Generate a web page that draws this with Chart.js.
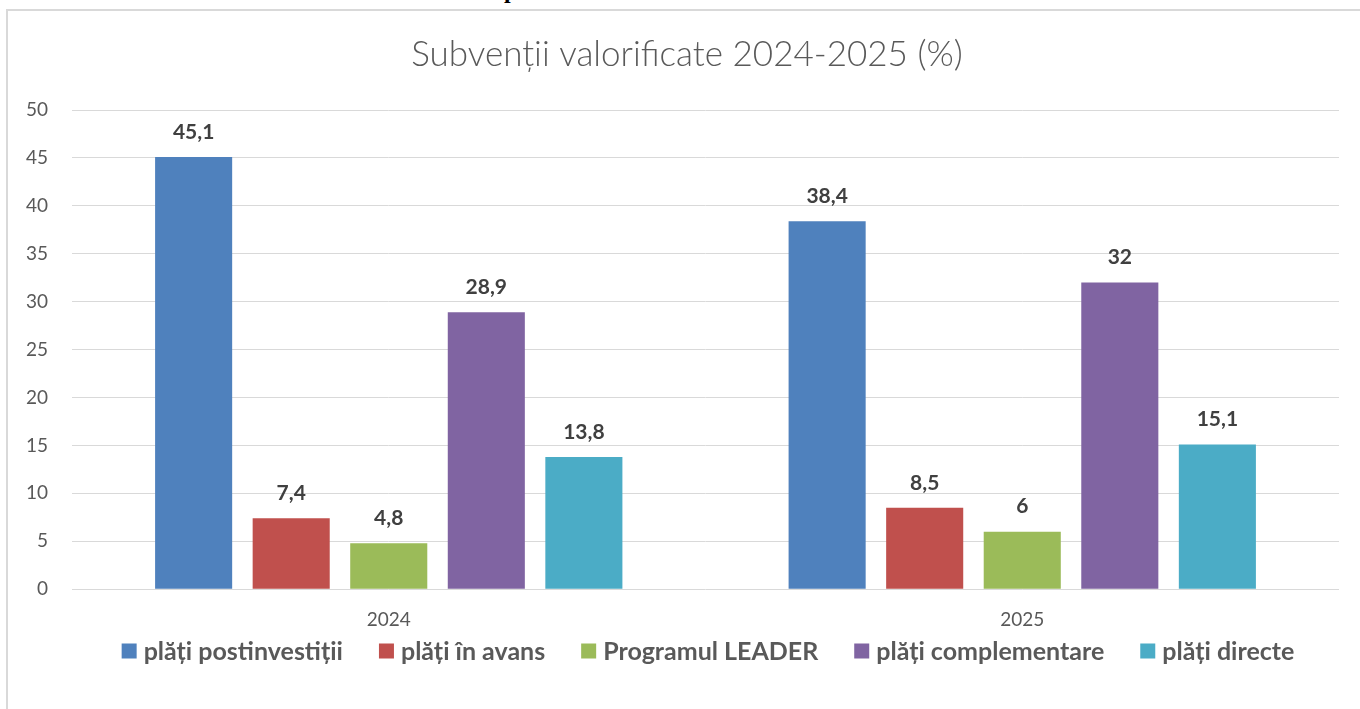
<!DOCTYPE html>
<html>
<head>
<meta charset="utf-8">
<script src="https://cdn.jsdelivr.net/npm/chart.js@4.4.1/dist/chart.umd.min.js"></script>
<style>
  html, body { margin: 0; padding: 0; background: #ffffff; overflow: hidden; }
  body { width: 1360px; height: 709px; position: relative; }
  #frame { position: absolute; left: 6px; top: 9px; width: 1400px; height: 760px;
           border-top: 2px solid #d9d9d9; border-left: 2px solid #d9d9d9; box-sizing: border-box; }
  #cut { position: absolute; left: 504px; top: -22px; font: bold 24px/24px "Liberation Serif", serif; color: #000; }
  #wrap { position: absolute; left: 0; top: 0; width: 1360px; height: 709px; }
</style>
</head>
<body>
<div id="frame"></div>
<div id="cut">p</div>
<div id="wrap"><canvas id="c" width="1360" height="709"></canvas></div>
<script>
const titleText = 'Subvenții valorificate 2024-2025 (%)';
const categories = ['2024', '2025'];
const seriesNames = ['plăți postinvestiții', 'plăți în avans', 'Programul LEADER', 'plăți complementare', 'plăți directe'];
const postinvestitii = [45.1, 38.4];
const inAvans = [7.4, 8.5];
const leader = [4.8, 6];
const complementare = [28.9, 32];
const directe = [13.8, 15.1];
const seriesColors = ['#4f81bd', '#c0504d', '#9bbb59', '#8064a2', '#4bacc6'];
const yTicks = [0, 5, 10, 15, 20, 25, 30, 35, 40, 45, 50];

const seriesValues = [postinvestitii, inAvans, leader, complementare, directe];
const FONT = 'Lato, "Open Sans", sans-serif';

const titleDraw = {
  id: 'titleDraw',
  afterDraw(chart) {
    const ctx = chart.ctx;
    ctx.save();
    ctx.font = '300 35px ' + FONT;
    ctx.fillStyle = '#595959';
    ctx.textAlign = 'center';
    ctx.textBaseline = 'middle';
    ctx.fillText(titleText, 687, 55);
    ctx.restore();
  }
};

const legendDraw = {
  id: 'legendDraw',
  afterDraw(chart) {
    const ctx = chart.ctx;
    ctx.save();
    ctx.font = 'bold 25px ' + FONT;
    ctx.textBaseline = 'middle';
    ctx.textAlign = 'left';
    const box = 15, gap = 7, spacing = 36, cy = 651;
    const widths = chart.data.datasets.map(ds => box + gap + ctx.measureText(ds.label).width);
    const total = widths.reduce((a, b) => a + b, 0) + spacing * (widths.length - 1);
    let x = 708 - total / 2;
    chart.data.datasets.forEach((ds, i) => {
      ctx.fillStyle = ds.backgroundColor;
      ctx.fillRect(x, cy - box / 2, box, box);
      ctx.fillStyle = '#595959';
      ctx.fillText(ds.label, x + box + gap, cy + 1);
      x += widths[i] + spacing;
    });
    ctx.restore();
  }
};

const valueLabels = {
  id: 'valueLabels',
  afterDatasetsDraw(chart) {
    const ctx = chart.ctx;
    ctx.save();
    ctx.font = 'bold 21px ' + FONT;
    ctx.fillStyle = '#404040';
    ctx.textAlign = 'center';
    ctx.textBaseline = 'middle';
    chart.data.datasets.forEach((ds, di) => {
      const meta = chart.getDatasetMeta(di);
      meta.data.forEach((bar, i) => {
        const txt = String(ds.data[i]).replace('.', ',');
        ctx.fillText(txt, bar.x, bar.y - 25);
      });
    });
    ctx.restore();
  }
};

new Chart(document.getElementById('c'), {
  type: 'bar',
  data: {
    labels: categories,
    datasets: seriesNames.map((n, k) => ({
      label: n,
      data: seriesValues[k],
      backgroundColor: seriesColors[k],
      borderWidth: 0,
      categoryPercentage: 0.77,
      barPercentage: 0.79
    }))
  },
  options: {
    responsive: false,
    animation: false,
    devicePixelRatio: 1,
    layout: { padding: { left: 0, right: 21, top: 110, bottom: 59 } },
    plugins: {
      tooltip: { enabled: false },
      title: { display: false },
      legend: { display: false }
    },
    scales: {
      x: {
        grid: { display: false, drawTicks: false },
        border: { display: false },
        ticks: { color: '#595959', font: { family: FONT, size: 19 }, padding: 19 }
      },
      y: {
        min: 0,
        max: 50,
        afterBuildTicks(scale) { scale.ticks = yTicks.map(v => ({ value: v })); },
        grid: { color: '#d9d9d9', lineWidth: 1, drawTicks: false },
        border: { display: false },
        ticks: { color: '#595959', font: { family: FONT, size: 19 }, padding: 24 },
        afterFit(scale) { scale.width = 72; }
      }
    }
  },
  plugins: [valueLabels, titleDraw, legendDraw]
});
</script>
</body>
</html>
